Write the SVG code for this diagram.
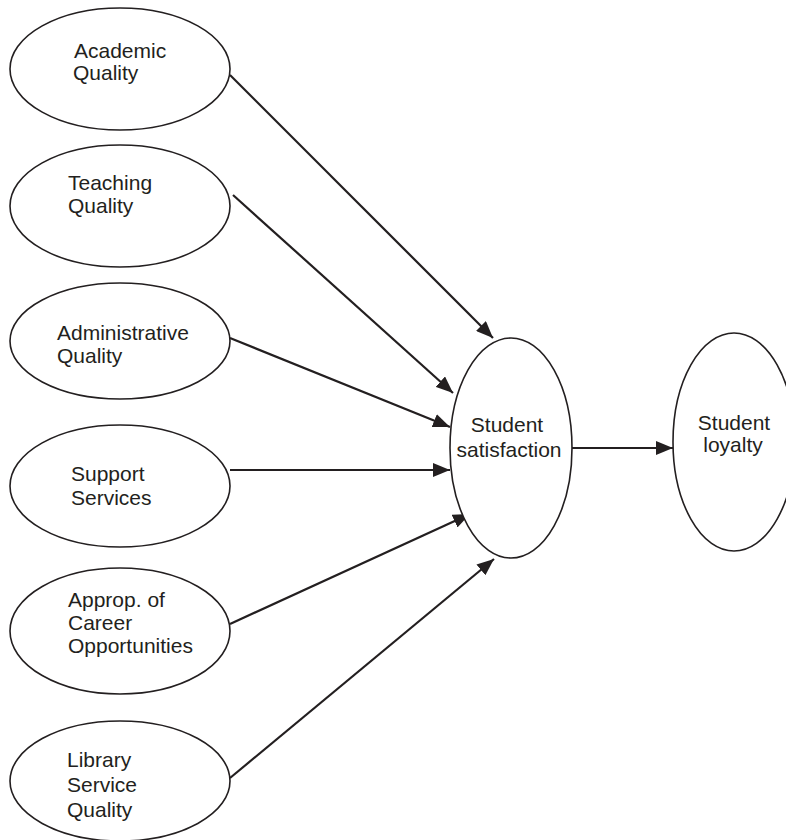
<svg xmlns="http://www.w3.org/2000/svg" width="786" height="840" viewBox="0 0 786 840">
<style>
.node ellipse{fill:#fff;stroke:#231f20;stroke-width:1.6}
.node text{font-family:"Liberation Sans",Arial,sans-serif;font-size:21px;fill:#231f20}
.c text{}
#connectors line{stroke:#231f20;stroke-width:2.2;marker-end:url(#ah)}
</style>
<defs>
<marker id="ah" markerUnits="userSpaceOnUse" markerWidth="18" markerHeight="14" refX="17" refY="7" orient="auto">
<path d="M0,0 L17,7 L0,14 z" fill="#231f20"/>
</marker>
</defs>
<rect width="786" height="840" fill="#fff"/>
<g id="connectors">
<line x1="230" y1="75" x2="493" y2="338"/>
<line x1="233" y1="195" x2="453" y2="393"/>
<line x1="230" y1="338" x2="450" y2="427"/>
<line x1="230" y1="470" x2="450" y2="470"/>
<line x1="230" y1="624" x2="470" y2="514"/>
<line x1="230" y1="778" x2="494" y2="559"/>
<line x1="572" y1="448" x2="673" y2="448"/>
</g>
<g id="academic" class="node">
<ellipse cx="120" cy="69" rx="110" ry="61"/>
<text x="74" y="58">Academic</text>
<text x="73" y="80">Quality</text>
</g>
<g id="teaching" class="node">
<ellipse cx="120" cy="206" rx="110" ry="61"/>
<text x="68" y="190">Teaching</text>
<text x="68" y="213">Quality</text>
</g>
<g id="administrative" class="node">
<ellipse cx="120" cy="341" rx="110" ry="58"/>
<text x="57" y="340">Administrative</text>
<text x="57" y="363">Quality</text>
</g>
<g id="support" class="node">
<ellipse cx="120" cy="486" rx="110" ry="61"/>
<text x="71" y="481">Support</text>
<text x="71" y="505">Services</text>
</g>
<g id="career" class="node">
<ellipse cx="120" cy="631" rx="110" ry="63"/>
<text x="68" y="607">Approp. of</text>
<text x="68" y="630">Career</text>
<text x="68" y="653">Opportunities</text>
</g>
<g id="library" class="node">
<ellipse cx="120" cy="781" rx="110" ry="60"/>
<text x="67" y="767">Library</text>
<text x="67" y="792">Service</text>
<text x="67" y="817">Quality</text>
</g>
<g id="satisfaction" class="node">
<ellipse cx="511" cy="448" rx="61" ry="110"/>
<text x="507" y="432" text-anchor="middle">Student</text>
<text x="509" y="457" text-anchor="middle">satisfaction</text>
</g>
<g id="loyalty" class="node">
<ellipse cx="734" cy="442" rx="61" ry="109"/>
<text x="734" y="430" text-anchor="middle">Student</text>
<text x="733" y="452" text-anchor="middle">loyalty</text>
</g>
</svg>
